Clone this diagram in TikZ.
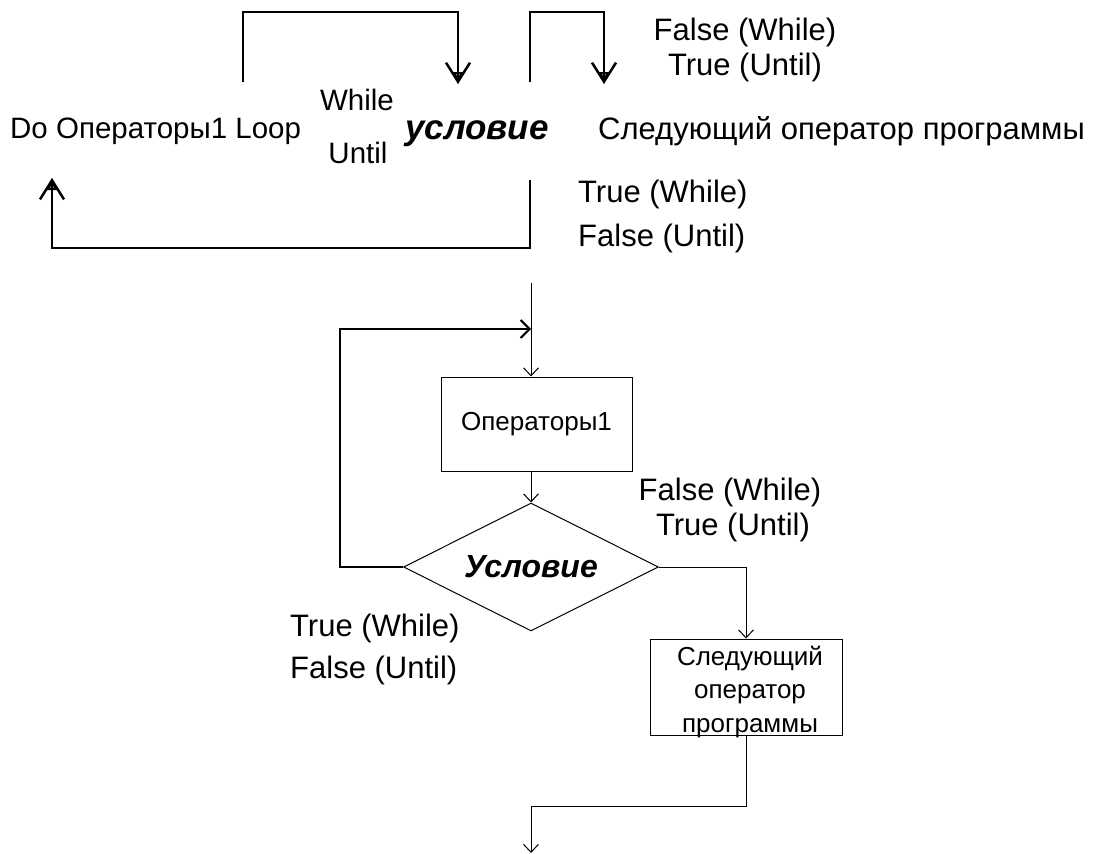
\documentclass[tikz,border=0pt]{standalone}
\usepackage{fontspec}
\setmainfont{Liberation Sans}
\usetikzlibrary{arrows.meta,shapes.geometric}
\begin{document}
\begin{tikzpicture}[x=1pt,y=-1pt,
  big/.style={font=\fontsize{31}{36}\selectfont, inner sep=0pt},
  mid/.style={font=\fontsize{29.5}{34}\selectfont, inner sep=0pt},
  bigbi/.style={font=\fontsize{35}{40}\selectfont\bfseries\itshape, inner sep=0pt},
  thk/.style={line width=2.5pt, line join=miter},
  thn/.style={line width=1pt},
  topbarb/.style={-{Straight Barb[length=19pt,width=24pt,line width=2.5pt]}},
  toptri/.style={-{Triangle[open,length=12pt,width=10pt,line width=2.2pt]}},
  thinarr/.style={-{Straight Barb[length=8pt,width=15pt,line width=1pt]}},
  loopar/.style={-{Straight Barb[length=9pt,width=18pt,line width=2pt]}},
  procbox/.style={draw, thn, minimum width=191pt, minimum height=94pt, inner sep=0pt},
  decision/.style={diamond, draw, thn, minimum width=255pt, minimum height=128pt, aspect=2, inner sep=0pt}
]
\useasboundingbox (0,0) rectangle (1104,854);

% ---------- top: statement syntax ----------
\node[mid, anchor=west] (do) at (10,131) {Do Операторы1 Loop};
\node[mid] (while) at (357,100) {While};
\node[mid] (until) at (358,153) {Until};
\node[bigbi] (cond) at (477,134) {условие};
\node[big, anchor=west] (next) at (598,131) {Следующий оператор программы};
\node[big] (fw1) at (745,32) {False (While)};
\node[big] (tu1) at (745,67) {True (Until)};
\node[big, anchor=west] (tw1) at (578,194) {True (While)};
\node[big, anchor=west] (fu1) at (578,238) {False (Until)};

\coordinate (a1) at (243,82);
\coordinate (a1t) at (243,12);
\coordinate (a2t) at (458,12);
\coordinate (a2) at (458,84);
\coordinate (b1) at (530,82);
\coordinate (b1t) at (530,12);
\coordinate (b2t) at (604,12);
\coordinate (b2) at (604,84);
\coordinate (c1) at (530,180);
\coordinate (c1b) at (530,248);
\coordinate (c2b) at (52,248);
\coordinate (c2) at (52,178);

\draw[thk, topbarb] (a1) -- (a1t) -- (a2t) -- (a2);
\draw[thk, toptri] (a2t) -- (a2);
\draw[thk, topbarb] (b1) -- (b1t) -- (b2t) -- (b2);
\draw[thk, toptri] (b2t) -- (b2);
\draw[thk, topbarb] (c1) -- (c1b) -- (c2b) -- (c2);
\draw[thk, toptri] (c2b) -- (c2);

% ---------- bottom: flowchart ----------
\node[procbox, font=\fontsize{26}{32}\selectfont] (ops) at (536.5,424) {Операторы1};
\node[decision, font=\fontsize{32}{36}\selectfont\bfseries\itshape] (dec) at (531,567) {Условие};
\node[procbox, minimum width=192pt, minimum height=96pt] (nx) at (746,687) {};
\node[align=center, inner sep=0pt, font=\fontsize{26}{33.5}\selectfont] (nxt) at (750,692) {Следующий\\оператор\\программы};

\coordinate (start) at (531,283);
\coordinate (join) at (531,329);
\coordinate (loopL) at (340,567);
\coordinate (loopT) at (340,329);
\coordinate (rt) at (746,567);
\coordinate (bend) at (746,806);
\coordinate (bend2) at (531,806);
\coordinate (endp) at (531,853);

\draw[thn, thinarr] (start) -- (ops.north -| start);
\draw[thn, thinarr] (ops.south -| start) -- (dec.north);
\draw[line width=2pt, loopar] (dec.west) -- (loopL) -- (loopT) -- (join);
\draw[thn, thinarr] (dec.east) -- (rt) -- (nx.north);
\draw[thn, thinarr] (nx.south) -- (bend) -- (bend2) -- (endp);

\node[big] (fw2) at (730,492) {False (While)};
\node[big] (tu2) at (733,527) {True (Until)};
\node[big, anchor=west] (tw2) at (290,628) {True (While)};
\node[big, anchor=west] (fu2) at (290,670) {False (Until)};
\end{tikzpicture}
\end{document}
